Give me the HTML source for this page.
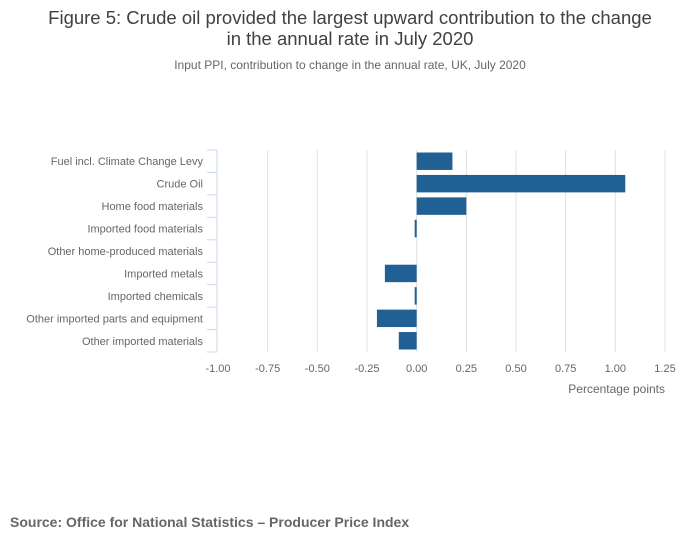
<!DOCTYPE html>
<html><head><meta charset="utf-8"><style>
body{margin:0;width:700px;height:549px;background:#fff;font-family:"Liberation Sans",sans-serif;overflow:hidden}
</style></head><body>
<svg width="700" height="549" xmlns="http://www.w3.org/2000/svg">
<text x="350" y="24" text-anchor="middle" font-size="18.5" fill="#414042">Figure 5: Crude oil provided the largest upward contribution to the change</text>
<text x="350" y="45" text-anchor="middle" font-size="18.5" fill="#414042">in the annual rate in July 2020</text>
<text x="350" y="69" text-anchor="middle" font-size="12" fill="#666">Input PPI, contribution to change in the annual rate, UK, July 2020</text>
<g id="grid"></g><g id="bars"></g><g id="yax"></g><g id="xax"></g>
<text x="665" y="393" text-anchor="end" font-size="12" fill="#666">Percentage points</text>
<text x="10" y="527" font-size="14" font-weight="bold" fill="#666">Source: Office for National Statistics – Producer Price Index</text>
</svg>
<script>
const categories=["Fuel incl. Climate Change Levy","Crude Oil","Home food materials","Imported food materials","Other home-produced materials","Imported metals","Imported chemicals","Other imported parts and equipment","Other imported materials"];
const values=[0.18,1.05,0.25,-0.01,0,-0.16,-0.01,-0.20,-0.09];
const xTicks=[-1,-0.75,-0.5,-0.25,0,0.25,0.5,0.75,1,1.25];
const NS="http://www.w3.org/2000/svg";
const x0=218,x1=665,plotTop=150,plotBot=352,xmin=-1,xmax=1.25;
const xs=v=>x0+(v-xmin)/(xmax-xmin)*(x1-x0);
const band=(plotBot-plotTop)/categories.length;
const ys=i=>plotTop+i*band;
function mk(t,a,p){const e=document.createElementNS(NS,t);for(const k in a)e.setAttribute(k,a[k]);document.getElementById(p).appendChild(e);return e;}
xTicks.forEach((t,i)=>{
 if(i>0){const g=mk('line',{x1:xs(t),x2:xs(t),y1:plotTop,y2:plotBot,stroke:'#e0e0e0','stroke-width':1},'grid');
 
 }
 const l=mk('text',{x:xs(t),y:372,'text-anchor':'middle','font-size':11,fill:'#666'},'xax');
 l.textContent=t.toFixed(2);
 
 
});
const ax=mk('line',{x1:x0-1,x2:x0-1,y1:plotTop,y2:plotBot,stroke:'#ccd6eb','stroke-width':1},'yax');


for(let i=0;i<=categories.length;i++){const t=mk('line',{x1:x0-11,x2:x0-1,y1:ys(i),y2:ys(i),stroke:'#ccd6eb','stroke-width':1},'yax');
 
 }
categories.forEach((c,i)=>{
 const l=mk('text',{x:203,y:ys(i)+band/2+4,'text-anchor':'end','font-size':11,fill:'#666'},'yax');
 l.textContent=c;
 
 
 const v=values[i];const a=xs(Math.min(0,v)),b=xs(Math.max(0,v));
 const r=mk('rect',{x:a,y:ys(i)+2.5,width:Math.max(b-a,v===0?0:1.5),height:band-5,fill:'#206095'},'bars');
 
 
});
</script>
</body></html>
